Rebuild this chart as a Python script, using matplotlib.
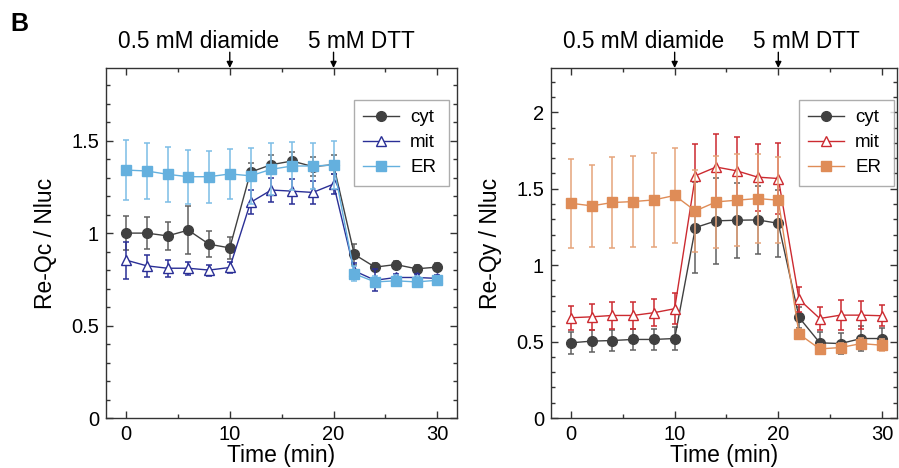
import numpy as np
import matplotlib
matplotlib.use('Agg')
import matplotlib.pyplot as plt
from matplotlib.ticker import MultipleLocator

plt.rcParams['font.family'] = ['Liberation Sans', 'DejaVu Sans']

time = [0, 2, 4, 6, 8, 10, 12, 14, 16, 18, 20, 22, 24, 26, 28, 30]

# Re-Qc panel
qc_cyt = [1.00, 1.00, 0.985, 1.016, 0.94, 0.92, 1.33, 1.37, 1.39, 1.36, 1.37, 0.885, 0.816, 0.83, 0.807, 0.816]
qc_cyt_err = [0.09, 0.085, 0.075, 0.13, 0.07, 0.06, 0.05, 0.05, 0.05, 0.05, 0.05, 0.055, 0.02, 0.02, 0.02, 0.02]
qc_mit = [0.854, 0.823, 0.81, 0.81, 0.80, 0.814, 1.166, 1.233, 1.227, 1.22, 1.265, 0.796, 0.745, 0.76, 0.76, 0.755]
qc_mit_err = [0.1, 0.06, 0.045, 0.035, 0.03, 0.03, 0.065, 0.063, 0.068, 0.063, 0.055, 0.04, 0.06, 0.02, 0.02, 0.02]
qc_er = [1.341, 1.336, 1.318, 1.305, 1.305, 1.32, 1.31, 1.345, 1.363, 1.363, 1.368, 0.78, 0.736, 0.742, 0.736, 0.745]
qc_er_err = [0.162, 0.15, 0.148, 0.145, 0.14, 0.135, 0.15, 0.14, 0.13, 0.127, 0.13, 0.04, 0.03, 0.03, 0.03, 0.025]

# Re-Qy panel
qy_cyt = [0.492, 0.503, 0.507, 0.514, 0.514, 0.52, 1.246, 1.29, 1.294, 1.296, 1.274, 0.658, 0.492, 0.487, 0.52, 0.52]
qy_cyt_err = [0.07, 0.07, 0.07, 0.07, 0.07, 0.075, 0.3, 0.28, 0.245, 0.225, 0.22, 0.07, 0.07, 0.07, 0.08, 0.07]
qy_mit = [0.656, 0.662, 0.671, 0.671, 0.689, 0.715, 1.585, 1.642, 1.617, 1.576, 1.567, 0.776, 0.651, 0.673, 0.673, 0.669]
qy_mit_err = [0.077, 0.087, 0.087, 0.087, 0.087, 0.1, 0.21, 0.217, 0.22, 0.22, 0.23, 0.08, 0.077, 0.1, 0.092, 0.07]
qy_er = [1.405, 1.388, 1.41, 1.416, 1.427, 1.456, 1.355, 1.414, 1.425, 1.436, 1.425, 0.549, 0.452, 0.461, 0.487, 0.476]
qy_er_err = [0.29, 0.27, 0.3, 0.3, 0.31, 0.31, 0.27, 0.3, 0.3, 0.29, 0.28, 0.035, 0.03, 0.03, 0.035, 0.04]

fig = plt.figure(figsize=(8.99, 4.68), dpi=100)
ax1 = fig.add_axes([106/899, 50/468, 351/899, 350/468])
ax2 = fig.add_axes([551/899, 50/468, 346/899, 350/468])


def draw(ax, series, ylim, ylabel, xmax, leg_x):
    for y, e, lab, col, ecol, mk, mfc in series:
        ax.errorbar(time, y, yerr=e, fmt='none', ecolor=ecol, elinewidth=1.1,
                    capsize=2.5, capthick=1.1)
        ax.plot(time, y, color=col, lw=1.0, marker=mk, ms=7,
                mfc=mfc, mec=col, mew=1.0, label=lab)
    ax.set_xlim(-1.93, xmax)
    ax.set_ylim(*ylim)
    ax.xaxis.set_major_locator(MultipleLocator(10))
    ax.xaxis.set_minor_locator(MultipleLocator(5))
    ax.yaxis.set_minor_locator(MultipleLocator(0.1))
    ax.tick_params(which='both', direction='in', top=True, right=True,
                   labelsize=14.5, color='#333333', pad=5)
    ax.tick_params(which='major', length=5, width=1)
    ax.tick_params(which='minor', length=3, width=1)
    n = int(ylim[1] / 0.5) + 1
    ax.set_yticks([0, 0.5, 1, 1.5, 2][:n])
    ax.set_yticklabels(['0', '0.5', '1', '1.5', '2'][:n])
    for s in ax.spines.values():
        s.set_color('#333333')
        s.set_linewidth(1)
    ax.set_xlabel('Time (min)', fontsize=16.5, labelpad=0)
    ax.set_ylabel(ylabel, fontsize=16.5, labelpad=10)
    # legend box about 95 x 85 px, top edge at y=100 px
    leg = ax.legend(loc='upper left',
                    bbox_to_anchor=(leg_x / 899, 1 - 185 / 468, 95 / 899, 85 / 468),
                    bbox_transform=fig.transFigure, borderaxespad=0, mode='expand',
                    fontsize=13.5, frameon=True, fancybox=False,
                    handlelength=1.9, borderpad=0.5, labelspacing=0.42,
                    handletextpad=0.6)
    leg.get_frame().set_edgecolor('#999999')
    leg.get_frame().set_linewidth(1)
    # treatment arrows and labels
    for xv in (10, 20):
        ax.annotate('', xy=(xv, 1.0), xycoords=('data', 'axes fraction'),
                    xytext=(xv, 1.045), textcoords=('data', 'axes fraction'),
                    arrowprops=dict(arrowstyle='-|>', color='black', lw=1,
                                    mutation_scale=9, shrinkA=0, shrinkB=0),
                    annotation_clip=False)
    ax.text(7.0, 1.076, '0.5 mM diamide', transform=ax.get_xaxis_transform(),
            ha='center', va='center', fontsize=16.3)
    ax.text(22.7, 1.076, '5 mM DTT', transform=ax.get_xaxis_transform(),
            ha='center', va='center', fontsize=16.3)


draw(ax1, [
    (qc_cyt, qc_cyt_err, 'cyt', '#404040', '#606060', 'o', '#404040'),
    (qc_mit, qc_mit_err, 'mit', '#2a2f96', '#2a2f96', '^', 'white'),
    (qc_er, qc_er_err, 'ER', '#64b0de', '#7cbde6', 's', '#64b0de'),
], (0, 1.893), 'Re-Qc / Nluc', 31.9, 354)

draw(ax2, [
    (qy_cyt, qy_cyt_err, 'cyt', '#404040', '#606060', 'o', '#404040'),
    (qy_mit, qy_mit_err, 'mit', '#cc2a30', '#cc2a30', '^', 'white'),
    (qy_er, qy_er_err, 'ER', '#df8c57', '#e6a47a', 's', '#df8c57'),
], (0, 2.29), 'Re-Qy / Nluc', 31.45, 799)

fig.text(10/899, 1 - 24/468, 'B', fontsize=18, fontweight='bold', va='center', ha='left')

fig.savefig('out.png', dpi=100)
